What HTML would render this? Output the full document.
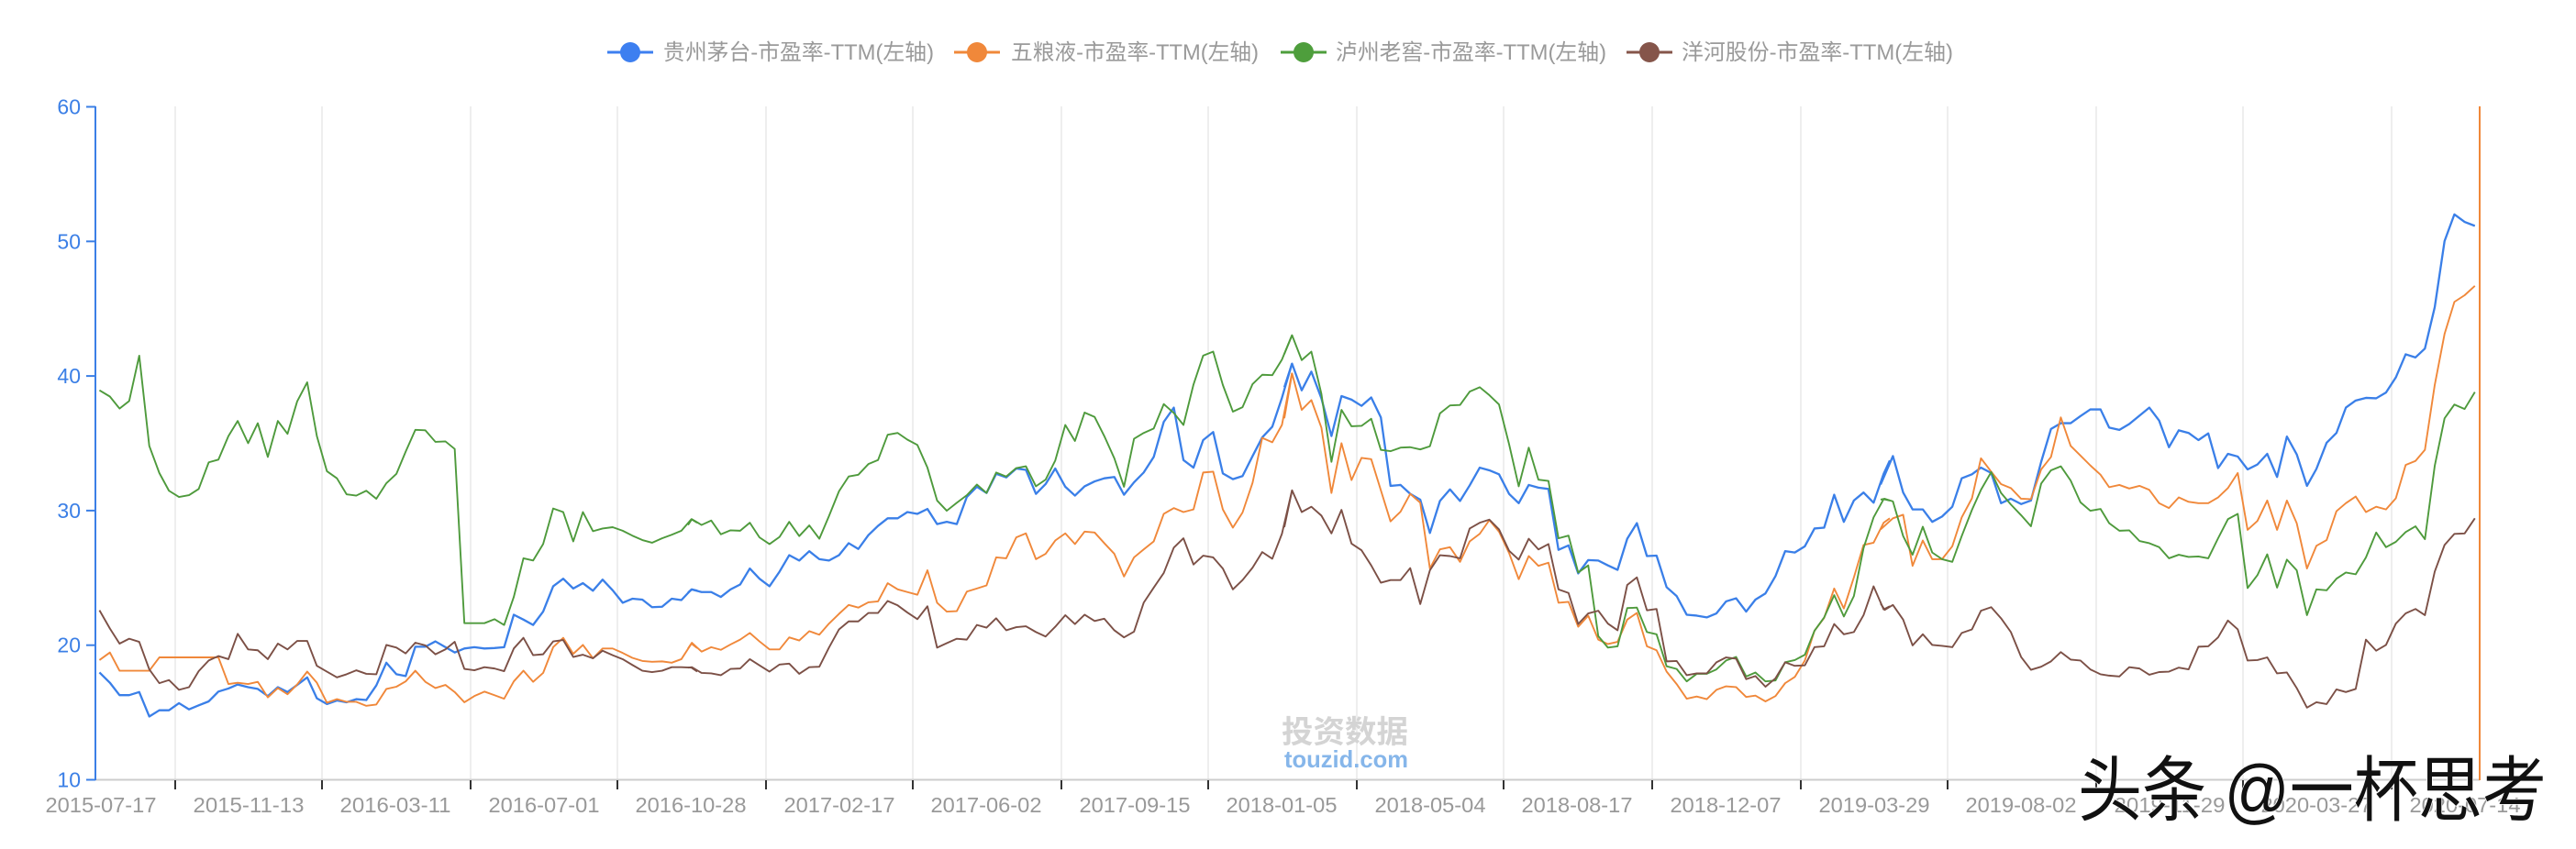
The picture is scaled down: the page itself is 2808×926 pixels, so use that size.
<!DOCTYPE html>
<html>
<head>
<meta charset="utf-8">
<style>
html,body{margin:0;padding:0;background:#fff;}
body{width:2808px;height:926px;overflow:hidden;}
svg{display:block;}
.lg{font-family:"Liberation Sans","Noto Sans CJK SC",sans-serif;font-size:24px;fill:#9a9a9a;}
.xl{font-family:"Liberation Sans",sans-serif;font-size:23px;fill:#999;text-anchor:middle;}
.yl{font-family:"Liberation Sans",sans-serif;font-size:23px;fill:#3b7fe6;text-anchor:end;}
</style>
</head>
<body>
<svg width="2808" height="926" viewBox="0 0 2808 926" xmlns="http://www.w3.org/2000/svg">
<rect width="2808" height="926" fill="#fff"/>

<!-- legend -->
<g>
  <line x1="662" y1="57" x2="712" y2="57" stroke="#3d7ff0" stroke-width="3"/>
  <circle cx="687" cy="57" r="11" fill="#3d7ff0"/>
  <text class="lg" x="723" y="65" textLength="295" lengthAdjust="spacingAndGlyphs">贵州茅台-市盈率-TTM(左轴)</text>

  <line x1="1040" y1="57" x2="1090" y2="57" stroke="#f0883a" stroke-width="3"/>
  <circle cx="1065" cy="57" r="11" fill="#f0883a"/>
  <text class="lg" x="1102" y="65" textLength="270" lengthAdjust="spacingAndGlyphs">五粮液-市盈率-TTM(左轴)</text>

  <line x1="1396" y1="57" x2="1446" y2="57" stroke="#4e9e3c" stroke-width="3"/>
  <circle cx="1421" cy="57" r="11" fill="#4e9e3c"/>
  <text class="lg" x="1456" y="65" textLength="295" lengthAdjust="spacingAndGlyphs">泸州老窖-市盈率-TTM(左轴)</text>

  <line x1="1773" y1="57" x2="1823" y2="57" stroke="#85554a" stroke-width="3"/>
  <circle cx="1798" cy="57" r="11" fill="#85554a"/>
  <text class="lg" x="1833" y="65" textLength="296" lengthAdjust="spacingAndGlyphs">洋河股份-市盈率-TTM(左轴)</text>
</g>

<!-- grid lines -->
<g stroke="#e8e8e8" stroke-width="1.5">
  <line x1="191" y1="116" x2="191" y2="850"/>
  <line x1="351" y1="116" x2="351" y2="850"/>
  <line x1="513" y1="116" x2="513" y2="850"/>
  <line x1="673" y1="116" x2="673" y2="850"/>
  <line x1="835" y1="116" x2="835" y2="850"/>
  <line x1="995" y1="116" x2="995" y2="850"/>
  <line x1="1157" y1="116" x2="1157" y2="850"/>
  <line x1="1317" y1="116" x2="1317" y2="850"/>
  <line x1="1479" y1="116" x2="1479" y2="850"/>
  <line x1="1639" y1="116" x2="1639" y2="850"/>
  <line x1="1801" y1="116" x2="1801" y2="850"/>
  <line x1="1963" y1="116" x2="1963" y2="850"/>
  <line x1="2123" y1="116" x2="2123" y2="850"/>
  <line x1="2285" y1="116" x2="2285" y2="850"/>
  <line x1="2445" y1="116" x2="2445" y2="850"/>
  <line x1="2607" y1="116" x2="2607" y2="850"/>
</g>

<!-- x axis -->
<line x1="104" y1="850.5" x2="2703" y2="850.5" stroke="#cccccc" stroke-width="2"/>
<g stroke="#333" stroke-width="2">
  <line x1="191" y1="851" x2="191" y2="861"/>
  <line x1="351" y1="851" x2="351" y2="861"/>
  <line x1="513" y1="851" x2="513" y2="861"/>
  <line x1="673" y1="851" x2="673" y2="861"/>
  <line x1="835" y1="851" x2="835" y2="861"/>
  <line x1="995" y1="851" x2="995" y2="861"/>
  <line x1="1157" y1="851" x2="1157" y2="861"/>
  <line x1="1317" y1="851" x2="1317" y2="861"/>
  <line x1="1479" y1="851" x2="1479" y2="861"/>
  <line x1="1639" y1="851" x2="1639" y2="861"/>
  <line x1="1801" y1="851" x2="1801" y2="861"/>
  <line x1="1963" y1="851" x2="1963" y2="861"/>
  <line x1="2123" y1="851" x2="2123" y2="861"/>
  <line x1="2285" y1="851" x2="2285" y2="861"/>
  <line x1="2445" y1="851" x2="2445" y2="861"/>
  <line x1="2607" y1="851" x2="2607" y2="861"/>
</g>
<g>
  <text class="xl" x="110" y="886" textLength="121" lengthAdjust="spacingAndGlyphs">2015-07-17</text>
  <text class="xl" x="271" y="886" textLength="121" lengthAdjust="spacingAndGlyphs">2015-11-13</text>
  <text class="xl" x="431" y="886" textLength="121" lengthAdjust="spacingAndGlyphs">2016-03-11</text>
  <text class="xl" x="593" y="886" textLength="121" lengthAdjust="spacingAndGlyphs">2016-07-01</text>
  <text class="xl" x="753" y="886" textLength="121" lengthAdjust="spacingAndGlyphs">2016-10-28</text>
  <text class="xl" x="915" y="886" textLength="121" lengthAdjust="spacingAndGlyphs">2017-02-17</text>
  <text class="xl" x="1075" y="886" textLength="121" lengthAdjust="spacingAndGlyphs">2017-06-02</text>
  <text class="xl" x="1237" y="886" textLength="121" lengthAdjust="spacingAndGlyphs">2017-09-15</text>
  <text class="xl" x="1397" y="886" textLength="121" lengthAdjust="spacingAndGlyphs">2018-01-05</text>
  <text class="xl" x="1559" y="886" textLength="121" lengthAdjust="spacingAndGlyphs">2018-05-04</text>
  <text class="xl" x="1719" y="886" textLength="121" lengthAdjust="spacingAndGlyphs">2018-08-17</text>
  <text class="xl" x="1881" y="886" textLength="121" lengthAdjust="spacingAndGlyphs">2018-12-07</text>
  <text class="xl" x="2043" y="886" textLength="121" lengthAdjust="spacingAndGlyphs">2019-03-29</text>
  <text class="xl" x="2203" y="886" textLength="121" lengthAdjust="spacingAndGlyphs">2019-08-02</text>
  <text class="xl" x="2365" y="886" textLength="121" lengthAdjust="spacingAndGlyphs">2019-11-29</text>
  <text class="xl" x="2525" y="886" textLength="121" lengthAdjust="spacingAndGlyphs">2020-03-27</text>
  <text class="xl" x="2687" y="886" textLength="121" lengthAdjust="spacingAndGlyphs">2020-07-14</text>
</g>

<!-- y axis -->
<line x1="104" y1="116" x2="104" y2="851" stroke="#3b7fe6" stroke-width="2"/>
<g stroke="#3b7fe6" stroke-width="2">
  <line x1="94" y1="116.5" x2="104" y2="116.5"/>
  <line x1="94" y1="263.3" x2="104" y2="263.3"/>
  <line x1="94" y1="410.1" x2="104" y2="410.1"/>
  <line x1="94" y1="556.9" x2="104" y2="556.9"/>
  <line x1="94" y1="703.7" x2="104" y2="703.7"/>
  <line x1="94" y1="850.5" x2="104" y2="850.5"/>
</g>
<g>
  <text class="yl" x="88" y="124.5">60</text>
  <text class="yl" x="88" y="271.3">50</text>
  <text class="yl" x="88" y="418.1">40</text>
  <text class="yl" x="88" y="564.9">30</text>
  <text class="yl" x="88" y="711.7">20</text>
  <text class="yl" x="88" y="858.5">10</text>
</g>

<!-- right orange axis line -->
<line x1="2703" y1="116" x2="2703" y2="851" stroke="#f0883a" stroke-width="2"/>

<!-- series: chunk 1 -->
<g transform="translate(100,100) scale(0.42092,0.48469)" fill="none" stroke-linejoin="round">
<polyline vector-effect="non-scaling-stroke" stroke="#3a7fe8" stroke-width="2.3" points="20,1307 47,1330 72,1358 97,1358 123,1351 149,1406 175,1392 200,1392 226,1376 252,1390 277,1381 303,1372 328,1350 354,1343 378,1334 405,1340 430,1344 456,1360 482,1340 507,1351 532,1335 558,1318 583,1365 609,1378 635,1370 660,1374 685,1367 711,1369 737,1336 763,1285 789,1311 813,1315 838,1249 864,1249 890,1237 916,1250 940,1262 965,1253 991,1250 1017,1253 1043,1252 1068,1250 1093,1177 1118,1188 1143,1200 1169,1170 1195,1113 1221,1096 1247,1118 1272,1106 1298,1123 1323,1098 1349,1122 1375,1150 1400,1141 1426,1143 1451,1160 1477,1159 1502,1141 1527,1144 1553,1120 1568,1123"/>
<polyline vector-effect="non-scaling-stroke" stroke="#f0883a" stroke-width="1.9" points="20,1279 47,1262 72,1303 97,1303 123,1303 149,1303 175,1273 200,1273 226,1273 252,1273 277,1273 303,1273 328,1273 354,1333 378,1330 405,1333 430,1328 456,1363 482,1342 507,1356 532,1334 558,1305 583,1330 609,1375 635,1367 660,1373 685,1373 711,1382 737,1379 763,1344 789,1339 813,1327 838,1303 864,1328 890,1342 916,1335 940,1351 965,1374 991,1360 1017,1350 1043,1358 1068,1366 1093,1327 1118,1303 1143,1328 1169,1308 1195,1250 1221,1229 1247,1265 1272,1245 1298,1275 1323,1253 1349,1253 1375,1263 1400,1274 1426,1281 1451,1283 1477,1282 1502,1285 1527,1277 1553,1242 1568,1252"/>
<polyline vector-effect="non-scaling-stroke" stroke="#4e9a3c" stroke-width="1.9" points="20,672 47,686 72,713 97,696 123,594 149,797 175,858 200,898 226,912 252,908 277,894 303,834 328,828 354,775 378,741 405,791 430,746 456,822 482,741 507,770 532,697 558,654 583,775 609,854 635,870 660,906 685,909 711,898 737,916 763,881 789,860 813,810 838,761 864,762 890,788 916,787 940,804 965,1196 991,1196 1017,1196 1043,1187 1068,1200 1093,1137 1118,1050 1143,1055 1169,1018 1195,938 1221,946 1247,1012 1272,946 1298,989 1323,983 1349,980 1375,988 1400,999 1426,1009 1451,1015 1477,1005 1502,997 1527,988 1553,962 1568,970"/>
<polyline vector-effect="non-scaling-stroke" stroke="#7c5046" stroke-width="1.9" points="20,1167 47,1208 72,1242 97,1231 123,1238 149,1300 175,1331 200,1324 226,1346 252,1340 277,1304 303,1280 328,1270 354,1277 378,1220 405,1255 430,1257 456,1277 482,1242 507,1255 532,1236 558,1236 583,1292 609,1305 635,1318 660,1311 685,1302 711,1310 737,1311 763,1245 789,1251 813,1264 838,1240 864,1246 890,1266 916,1255 940,1238 965,1299 991,1302 1017,1295 1043,1298 1068,1304 1093,1253 1118,1229 1143,1268 1169,1266 1195,1237 1221,1234 1247,1272 1272,1267 1298,1275 1323,1258 1349,1268 1375,1277 1400,1290 1426,1303 1451,1306 1477,1303 1502,1295 1527,1295 1553,1296 1568,1305"/>
</g>

<!-- series: chunk 2 -->
<g transform="translate(750,100) scale(0.42092,0.48469)" fill="none" stroke-linejoin="round">
<polyline vector-effect="non-scaling-stroke" stroke="#3a7fe8" stroke-width="2.3" points="0,1127 10,1120 35,1126 60,1126 85,1137 110,1120 135,1109 160,1073 185,1096 211,1113 237,1080 262,1043 288,1055 314,1034 340,1052 365,1055 391,1043 416,1016 441,1029 467,998 492,977 517,960 543,960 568,946 594,950 620,939 645,973 670,968 696,973 722,912 748,889 773,903 798,860 824,868 850,848 875,851 901,905 926,883 951,848 977,889 1002,909 1027,888 1053,877 1078,870 1104,867 1129,907 1155,879 1180,857 1206,822 1232,743 1258,711 1283,829 1309,846 1334,784 1360,766 1385,859 1411,872 1436,865 1462,820 1487,778 1513,754 1538,689 1564,612"/>
<polyline vector-effect="non-scaling-stroke" stroke="#f0883a" stroke-width="1.9" points="0,1253 10,1240 35,1260 60,1250 85,1256 110,1244 135,1233 160,1218 185,1237 211,1255 237,1255 262,1228 288,1235 314,1214 340,1222 365,1197 391,1175 416,1155 441,1161 467,1149 492,1147 517,1106 543,1120 568,1126 594,1132 620,1077 645,1150 670,1170 696,1169 722,1125 748,1118 773,1111 798,1048 824,1050 850,1003 875,994 901,1052 926,1040 951,1010 977,994 1002,1018 1027,990 1053,992 1078,1016 1104,1040 1129,1091 1155,1048 1180,1030 1206,1012 1232,950 1258,937 1283,946 1309,940 1334,857 1360,855 1385,940 1411,981 1436,947 1462,880 1487,779 1513,789 1538,750 1564,633"/>
<polyline vector-effect="non-scaling-stroke" stroke="#4e9a3c" stroke-width="1.9" points="0,975 10,962 35,975 60,965 85,996 110,987 135,988 160,970 185,1003 211,1018 237,1002 262,968 288,1000 314,976 340,1006 365,955 391,899 416,866 441,862 467,838 492,829 517,772 543,768 568,783 594,795 620,846 645,920 670,943 696,925 722,908 748,884 773,903 798,857 824,866 850,847 875,843 901,888 926,873 951,830 977,750 1002,786 1027,722 1053,732 1078,775 1104,825 1129,889 1155,781 1180,768 1206,758 1232,703 1258,723 1283,750 1309,659 1334,594 1360,585 1385,660 1411,720 1436,710 1462,658 1487,637 1513,638 1538,603 1564,548"/>
<polyline vector-effect="non-scaling-stroke" stroke="#7c5046" stroke-width="1.9" points="0,1296 10,1295 35,1308 60,1309 85,1313 110,1299 135,1298 160,1277 185,1291 211,1305 237,1289 262,1287 288,1310 314,1295 340,1294 365,1251 391,1210 416,1192 441,1192 467,1173 492,1173 517,1146 543,1156 568,1172 594,1187 620,1158 645,1251 670,1241 696,1231 722,1233 748,1200 773,1206 798,1185 824,1212 850,1205 875,1203 901,1216 926,1226 951,1204 977,1178 1002,1198 1027,1177 1053,1191 1078,1186 1104,1212 1129,1228 1155,1215 1180,1150 1206,1116 1232,1083 1258,1026 1283,1005 1309,1064 1334,1044 1360,1048 1385,1073 1411,1120 1436,1099 1462,1071 1487,1036 1513,1051 1538,995 1564,898"/>
</g>

<!-- series: chunk 3 -->
<g transform="translate(1400,100) scale(0.42092,0.48469)" fill="none" stroke-linejoin="round">
<polyline vector-effect="non-scaling-stroke" stroke="#3a7fe8" stroke-width="2.3" points="0,665 20,612 45,672 70,630 96,690 122,775 148,685 174,693 200,707 225,688 250,733 275,887 301,885 326,905 352,918 377,993 403,921 429,895 455,921 480,886 506,846 531,852 556,861 582,905 607,926 633,885 658,891 684,894 710,1031 736,1021 761,1084 787,1054 813,1055 838,1066 863,1076 888,1006 913,971 939,1045 964,1044 990,1115 1016,1135 1042,1177 1068,1179 1094,1183 1119,1174 1144,1147 1170,1140 1196,1170 1220,1143 1246,1129 1272,1090 1297,1034 1322,1037 1348,1023 1373,983 1398,981 1424,907 1449,968 1475,920 1500,902 1526,925 1552,860 1568,830"/>
<polyline vector-effect="non-scaling-stroke" stroke="#f0883a" stroke-width="1.9" points="0,735 20,634 45,716 70,694 96,756 122,903 148,791 174,874 200,824 225,827 250,897 275,967 301,945 326,905 352,925 377,1073 403,1030 429,1025 455,1058 480,1012 506,995 531,964 556,990 582,1038 607,1097 633,1045 658,1067 684,1060 710,1150 736,1148 761,1204 787,1179 813,1233 838,1243 863,1238 888,1188 913,1173 939,1248 964,1257 990,1305 1016,1333 1042,1366 1068,1361 1094,1367 1119,1346 1144,1338 1170,1340 1196,1362 1220,1359 1246,1372 1272,1360 1297,1331 1322,1317 1348,1280 1373,1213 1398,1184 1424,1118 1449,1163 1475,1093 1500,1020 1526,1015 1552,970 1568,960"/>
<polyline vector-effect="non-scaling-stroke" stroke="#4e9a3c" stroke-width="1.9" points="0,590 20,548 45,604 70,585 96,680 122,833 148,716 174,753 200,752 225,736 250,806 275,809 301,801 326,800 352,805 377,798 403,724 429,706 455,705 480,675 506,665 531,683 556,704 582,793 607,888 633,801 658,873 684,876 710,1005 736,999 761,1082 787,1066 813,1225 838,1251 863,1248 888,1162 913,1161 939,1216 964,1221 990,1293 1016,1299 1042,1327 1068,1310 1094,1310 1119,1300 1144,1280 1170,1272 1196,1316 1220,1307 1246,1327 1272,1325 1297,1284 1322,1279 1348,1267 1373,1213 1398,1183 1424,1133 1449,1181 1475,1135 1500,1027 1526,958 1552,917 1568,920"/>
<polyline vector-effect="non-scaling-stroke" stroke="#7c5046" stroke-width="1.9" points="0,980 20,897 45,946 70,934 96,954 122,994 148,941 174,1017 200,1032 225,1066 250,1105 275,1099 301,1099 326,1072 352,1153 377,1077 403,1043 429,1045 455,1050 480,983 506,970 531,963 556,985 582,1033 607,1053 633,1006 658,1030 684,1018 710,1120 736,1128 761,1198 787,1174 813,1168 838,1197 863,1212 888,1110 913,1093 939,1167 964,1164 990,1282 1016,1281 1042,1313 1068,1309 1094,1309 1119,1284 1144,1273 1170,1276 1196,1322 1220,1315 1246,1339 1272,1320 1297,1284 1322,1292 1348,1291 1373,1250 1398,1248 1424,1198 1449,1221 1475,1216 1500,1178 1526,1113 1552,1165 1568,1158"/>
</g>

<!-- series: chunk 4 -->
<g transform="translate(2050,100) scale(0.44643,0.48469)" fill="none" stroke-linejoin="round">
<polyline vector-effect="non-scaling-stroke" stroke="#3a7fe8" stroke-width="2.3" points="0,884 30,820 55,902 78,940 103,940 126,968 150,956 175,934 198,870 223,861 245,846 270,858 294,926 318,916 343,928 367,920 392,833 416,759 440,746 464,746 488,730 512,715 537,715 558,756 583,761 607,748 632,729 656,711 680,740 704,800 728,762 752,768 776,784 800,769 824,847 848,815 872,821 896,850 920,839 944,815 968,867 992,776 1016,816 1041,887 1064,849 1089,790 1113,768 1136,711 1160,695 1185,689 1210,690 1234,677 1258,643 1282,591 1306,598 1329,578 1353,485 1377,336 1401,276 1426,293 1451,302"/>
<polyline vector-effect="non-scaling-stroke" stroke="#f0883a" stroke-width="1.9" points="0,985 30,960 55,952 78,1067 103,1010 126,1052 150,1052 175,1023 198,958 223,915 245,825 270,855 294,883 318,892 343,916 367,917 392,850 416,822 440,733 464,797 488,819 512,841 537,862 558,890 583,885 607,893 632,887 656,896 680,926 704,937 728,913 752,923 776,926 800,926 824,913 848,892 872,858 896,986 920,966 944,920 968,986 992,920 1016,971 1041,1073 1064,1022 1089,1009 1113,944 1136,926 1160,911 1185,946 1210,934 1234,940 1258,915 1282,840 1306,831 1329,806 1353,660 1377,545 1401,473 1426,458 1451,437"/>
<polyline vector-effect="non-scaling-stroke" stroke="#4e9a3c" stroke-width="1.9" points="0,918 10,916 30,922 55,1000 78,1042 103,979 126,1037 150,1052 175,1058 198,1000 223,941 245,896 270,856 294,903 318,929 343,953 367,978 392,882 416,852 440,843 464,875 488,924 512,943 537,939 558,971 583,988 607,987 632,1011 656,1016 680,1025 704,1050 728,1042 752,1047 776,1046 800,1050 824,1005 848,962 872,950 896,1117 920,1088 944,1041 968,1116 992,1053 1016,1077 1041,1178 1064,1120 1089,1122 1113,1096 1136,1082 1160,1086 1185,1048 1210,992 1234,1025 1258,1013 1282,991 1306,978 1329,1007 1353,842 1377,735 1401,704 1426,714 1451,676"/>
<polyline vector-effect="non-scaling-stroke" stroke="#7c5046" stroke-width="1.9" points="0,1152 10,1166 30,1155 55,1188 78,1246 103,1221 126,1245 150,1247 175,1250 198,1218 223,1210 245,1168 270,1160 294,1185 318,1216 343,1272 367,1301 392,1294 416,1282 440,1261 464,1278 488,1280 512,1300 537,1311 558,1314 583,1316 607,1295 632,1298 656,1312 680,1306 704,1305 728,1296 752,1300 776,1249 800,1248 824,1228 848,1190 872,1210 896,1280 920,1279 944,1273 968,1309 992,1307 1016,1342 1041,1386 1064,1374 1089,1378 1113,1345 1136,1351 1160,1344 1185,1233 1210,1258 1234,1245 1258,1197 1282,1174 1306,1164 1329,1178 1353,1080 1377,1020 1401,995 1426,994 1451,960"/>
</g>

<!-- center watermark -->
<text x="1397" y="810" textLength="138" lengthAdjust="spacingAndGlyphs" style="font-family:'Noto Sans CJK SC',sans-serif;font-size:34px;font-weight:bold;fill:#d4d4d4;">投资数据</text>
<text x="1400" y="837" textLength="135" lengthAdjust="spacingAndGlyphs" style="font-family:'Liberation Sans',sans-serif;font-size:26px;font-weight:bold;fill:#86b6ea;">touzid.com</text>

<!-- corner watermark -->
<text x="2265" y="889" textLength="511" lengthAdjust="spacingAndGlyphs" style="font-family:'Liberation Sans','Noto Sans CJK SC',sans-serif;font-size:78px;fill:#111;stroke:#fff;stroke-width:1.5;paint-order:stroke;">头条 @一杯思考</text>
</svg>
</body>
</html>
